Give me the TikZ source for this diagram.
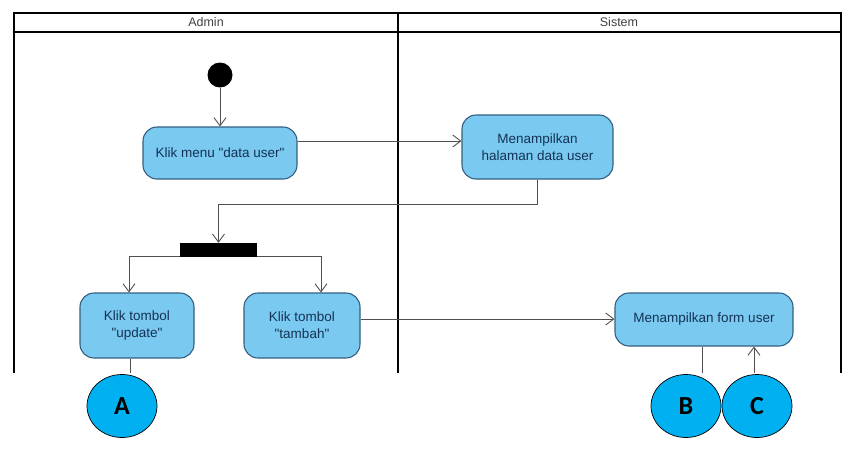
\documentclass[tikz,border=0pt]{standalone}
\usepackage{fontspec}
\setmainfont{Liberation Sans}
\newfontfamily\labelfont{Carlito}
\usetikzlibrary{arrows.meta,shapes.geometric,calc}

\definecolor{actfill}{RGB}{122,201,240}
\definecolor{actline}{RGB}{52,96,128}
\definecolor{acttext}{RGB}{20,50,85}
\definecolor{flowgray}{RGB}{80,80,80}
\definecolor{markerblue}{RGB}{0,176,240}

% straight double quote
\newcommand{\dq}{\textquotedbl}

\tikzset{
  activity/.style={draw=actline, fill=actfill, line width=1.1pt,
    rounded corners=14pt, text=acttext, align=center,
    font=\fontsize{13.5}{17}\selectfont, inner sep=0pt},
  flow/.style={draw=flowgray, line width=0.9pt, -{Straight Barb[length=8pt,width=12pt,line width=0.9pt]}},
  plainflow/.style={draw=flowgray, line width=0.9pt},
  lane/.style={draw=black, line width=1.8pt},
  lanetitle/.style={text=black!75, font=\fontsize{12.5}{14}\selectfont},
  marker/.style={ellipse, draw=black, line width=0.7pt, fill=markerblue,
    minimum width=70pt, minimum height=63pt, inner sep=0pt,
    font=\labelfont\bfseries\fontsize{26}{28}\selectfont}
}

\begin{document}
\begin{tikzpicture}[x=1pt,y=-1pt]
\useasboundingbox (0,0) rectangle (843,450);

% swimlane frame
\draw[lane] (14,373) -- (14,13) -- (841,13) -- (841,373);
\draw[lane] (14,32) -- (841,32);
\draw[lane] (398,13) -- (398,373);
\node[lanetitle] (admin) at (206,22.5) {Admin};
\node[lanetitle] (sistem) at (619,22.5) {Sistem};

% initial node
\node[circle, fill=black, minimum size=25pt, inner sep=0pt] (start) at (220,75) {};

% activities
\node[activity, minimum width=154pt, minimum height=52pt] (menu) at (220,153) {Klik menu \dq data user\dq};
\node[activity, minimum width=151pt, minimum height=64pt] (halaman) at (537.5,147) {Menampilkan\\halaman data user};
\node[activity, minimum width=114pt, minimum height=65pt] (update) at (137,325.5) {Klik tombol\\\dq update\dq};
\node[activity, minimum width=116pt, minimum height=65pt] (tambah) at (302,325.5) {Klik tombol\\\dq tambah\dq};
\node[activity, minimum width=178pt, minimum height=53pt] (form) at (704,319.5) {Menampilkan form user};

% fork bar
\node[fill=black, minimum width=77pt, minimum height=14pt, inner sep=0pt] (fork) at (218.5,250) {};

% open ends toward the connector circles
\coordinate (outA) at (130,373);
\coordinate (outB) at (702,373);
\coordinate (inC) at (754,373);

% flows
\draw[flow] (start) -- (menu);
\draw[flow] (menu.east |- 0,141) -- (halaman.west |- 0,141);
\draw[flow] (halaman.south) -- (halaman.south |- 0,204) -| (fork.north);
\draw[flow] (fork.west |- 0,256) -| (update.north -| 129,0);
\draw[flow] (fork.east |- 0,256) -| (tambah.north -| 321,0);
\draw[flow] (tambah.east |- 0,319) -- (form.west |- 0,319);
\draw[plainflow] (update.south -| outA) -- (outA);
\draw[plainflow] (form.south -| outB) -- (outB);
\draw[flow] (inC) -- (form.south -| inC);

% off-page connectors
\node[marker] (A) at (122,406) {A};
\node[marker] (B) at (686,406) {B};
\node[marker] (C) at (757,406) {C};
\end{tikzpicture}
\end{document}
